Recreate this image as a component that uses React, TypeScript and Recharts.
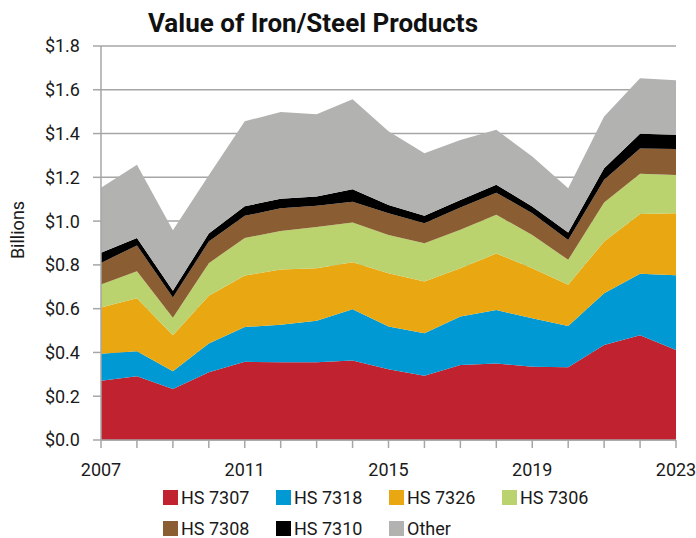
import React from 'react';
import { AreaChart, Area, XAxis, YAxis, CartesianGrid, Legend, Label } from 'recharts';

const years = [2007, 2008, 2009, 2010, 2011, 2012, 2013, 2014, 2015, 2016, 2017, 2018, 2019, 2020, 2021, 2022, 2023];
const hs7307 = [0.271, 0.291, 0.233, 0.31, 0.357, 0.355, 0.355, 0.363, 0.323, 0.293, 0.343, 0.35, 0.335, 0.332, 0.434, 0.478, 0.411];
const hs7318 = [0.123, 0.115, 0.081, 0.131, 0.159, 0.171, 0.19, 0.234, 0.195, 0.195, 0.221, 0.244, 0.221, 0.189, 0.236, 0.281, 0.342];
const hs7326 = [0.211, 0.242, 0.164, 0.218, 0.235, 0.253, 0.24, 0.215, 0.244, 0.236, 0.221, 0.258, 0.229, 0.188, 0.237, 0.274, 0.283];
const hs7306 = [0.105, 0.123, 0.081, 0.149, 0.172, 0.176, 0.188, 0.182, 0.175, 0.175, 0.175, 0.177, 0.152, 0.114, 0.178, 0.183, 0.175];
const hs7308 = [0.099, 0.118, 0.092, 0.099, 0.101, 0.104, 0.097, 0.094, 0.099, 0.091, 0.102, 0.101, 0.099, 0.091, 0.104, 0.116, 0.118];
const hs7310 = [0.046, 0.034, 0.031, 0.036, 0.044, 0.043, 0.042, 0.058, 0.038, 0.034, 0.035, 0.036, 0.031, 0.034, 0.053, 0.067, 0.065];
const other = [0.297, 0.334, 0.276, 0.267, 0.388, 0.397, 0.376, 0.411, 0.336, 0.286, 0.274, 0.251, 0.228, 0.202, 0.236, 0.254, 0.249];

const seriesNames = ['HS 7307', 'HS 7318', 'HS 7326', 'HS 7306', 'HS 7308', 'HS 7310', 'Other'];
const seriesValues = [hs7307, hs7318, hs7326, hs7306, hs7308, hs7310, other];
const seriesColors = ['#C0232F', '#0099D3', '#E9A812', '#BBD36F', '#8B5D33', '#000000', '#B2B3B1'];

const yTicks = [0, 0.2, 0.4, 0.6, 0.8, 1.0, 1.2, 1.4, 1.6, 1.8];
const xLabelYears = [2007, 2011, 2015, 2019, 2023];

const data = years.map((yr, i) => {
  const row: Record<string, number> = { year: yr };
  seriesNames.forEach((n, k) => {
    row[n] = seriesValues[k][i];
  });
  return row;
});

const FONT = 'Roboto, "Noto Sans", sans-serif';
const GRID = '#a6a6a6';

const renderLegend = () => (
  <div style={{ display: 'flex', flexWrap: 'wrap', width: 460, fontFamily: FONT, fontSize: 18, color: '#1a1a1a' }}>
    {seriesNames.map((n, k) => (
      <div key={n} style={{ width: 113, height: 31, display: 'flex', alignItems: 'center' }}>
        <span style={{ display: 'inline-block', width: 15, height: 15, background: seriesColors[k], marginRight: 3 }} />
        <span>{n}</span>
      </div>
    ))}
  </div>
);

export default function App() {
  return (
    <div style={{ position: 'absolute', left: 0, top: 0, width: 696, height: 538 }}>
      <div
        style={{
          position: 'absolute',
          left: 0,
          top: 10,
          width: 626,
          textAlign: 'center',
          fontFamily: FONT,
          fontWeight: 700,
          fontSize: 26,
          lineHeight: '26px',
          color: '#111',
        }}
      >
        Value of Iron/Steel Products
      </div>
      <AreaChart width={696} height={538} data={data} margin={{ top: 46, right: 20, bottom: 0, left: 0 }}>
        <CartesianGrid vertical={false} stroke={GRID} strokeWidth={1.5} />
        <XAxis
          dataKey="year"
          type="number"
          domain={[2007, 2023]}
          ticks={years}
          interval={0}
          tickFormatter={(v: number) => (xLabelYears.includes(v) ? String(v) : '')}
          tickSize={8}
          tickMargin={15}
          height={42}
          axisLine={{ stroke: GRID, strokeWidth: 1.5 }}
          tickLine={{ stroke: GRID, strokeWidth: 1.5 }}
          tick={{ fill: '#1a1a1a', fontSize: 18, fontFamily: FONT }}
        />
        <YAxis
          domain={[0, 1.8]}
          ticks={yTicks}
          interval={0}
          width={101}
          tickFormatter={(v: number) => `$${v.toFixed(1)}`}
          tickSize={8}
          tickMargin={13}
          axisLine={{ stroke: GRID, strokeWidth: 1.5 }}
          tickLine={{ stroke: GRID, strokeWidth: 1.5 }}
          tick={{ fill: '#1a1a1a', fontSize: 18, fontFamily: FONT }}
        >
          <Label
            content={() => (
              <text
                x={17}
                y={230}
                transform="rotate(-90 17 230)"
                textAnchor="middle"
                dominantBaseline="central"
                fontSize={18}
                fontFamily={FONT}
                fill="#1a1a1a"
              >
                Billions
              </text>
            )}
          />
        </YAxis>
        <Legend
          verticalAlign="bottom"
          content={renderLegend}
          wrapperStyle={{ left: 163, top: 482, width: 460, height: 56 }}
        />
        {seriesNames.map((n, k) => (
          <Area
            key={n}
            type="linear"
            dataKey={n}
            stackId="1"
            stroke="none"
            fill={seriesColors[k]}
            fillOpacity={1}
            isAnimationActive={false}
            dot={false}
            activeDot={false}
          />
        ))}
      </AreaChart>
    </div>
  );
}
